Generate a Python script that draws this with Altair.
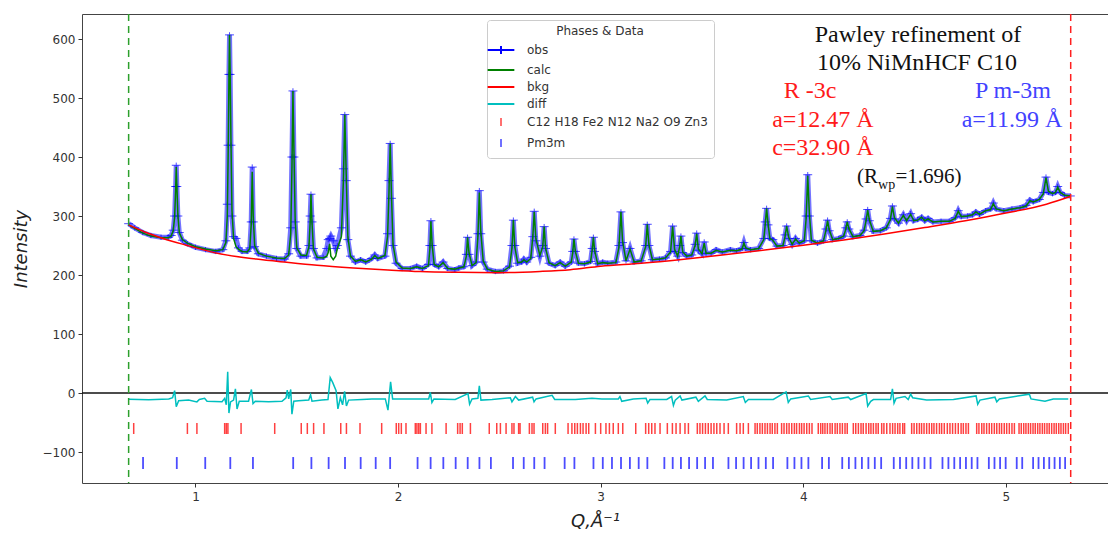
import altair as alt
import pandas as pd

# ---- observed / calculated profile (shared Q grid) ----
Q_PROFILE = [
    0.670, 0.700, 0.740, 0.780, 0.830, 0.865, 0.880, 0.890, 0.897, 0.902, 0.905, 0.908, 0.913, 0.920, 0.935, 0.960,
    1.000, 1.050, 1.100, 1.135, 1.150, 1.157, 1.161, 1.165, 1.168, 1.171, 1.175, 1.180, 1.188, 1.200, 1.212, 1.230,
    1.255, 1.268, 1.275, 1.280, 1.285, 1.292, 1.310, 1.350, 1.400, 1.440, 1.460, 1.470, 1.476, 1.481, 1.486, 1.492,
    1.500, 1.520, 1.548, 1.560, 1.566, 1.570, 1.575, 1.582, 1.600, 1.630, 1.648, 1.655, 1.662, 1.668, 1.680, 1.692,
    1.700, 1.720, 1.730, 1.737, 1.744, 1.752, 1.765, 1.790, 1.815, 1.840, 1.870, 1.885, 1.900, 1.935, 1.948, 1.955,
    1.961, 1.967, 1.975, 1.990, 2.020, 2.060, 2.092, 2.120, 2.150, 2.157, 2.162, 2.168, 2.178, 2.200, 2.222, 2.245,
    2.280, 2.300, 2.325, 2.337, 2.343, 2.350, 2.365, 2.385, 2.394, 2.401, 2.408, 2.420, 2.440, 2.480, 2.520, 2.550,
    2.562, 2.569, 2.576, 2.590, 2.610, 2.621, 2.635, 2.655, 2.665, 2.672, 2.680, 2.700, 2.714, 2.721, 2.728, 2.745,
    2.775, 2.800, 2.825, 2.855, 2.862, 2.868, 2.875, 2.890, 2.920, 2.950, 2.958, 2.964, 2.970, 2.985, 3.010, 3.035,
    3.075, 3.090, 3.100, 3.108, 3.125, 3.145, 3.165, 3.200, 3.222, 3.230, 3.238, 3.255, 3.290, 3.320, 3.345, 3.355,
    3.365, 3.380, 3.390, 3.396, 3.405, 3.425, 3.450, 3.466, 3.474, 3.482, 3.500, 3.511, 3.520, 3.545, 3.570, 3.600,
    3.640, 3.670, 3.698, 3.707, 3.716, 3.740, 3.780, 3.805, 3.812, 3.819, 3.826, 3.835, 3.850, 3.870, 3.900, 3.910,
    3.918, 3.928, 3.945, 3.962, 3.980, 4.005, 4.014, 4.022, 4.030, 4.040, 4.070, 4.100, 4.112, 4.120, 4.128, 4.145,
    4.175, 4.200, 4.210, 4.217, 4.225, 4.245, 4.280, 4.300, 4.310, 4.318, 4.326, 4.345, 4.380, 4.410, 4.430, 4.440,
    4.450, 4.470, 4.494, 4.510, 4.530, 4.545, 4.565, 4.584, 4.600, 4.616, 4.640, 4.680, 4.720, 4.750, 4.765, 4.780,
    4.810, 4.835, 4.852, 4.870, 4.900, 4.925, 4.938, 4.952, 4.990, 5.030, 5.070, 5.100, 5.119, 5.135, 5.165, 5.185,
    5.198, 5.210, 5.230, 5.245, 5.256, 5.268, 5.290, 5.318,
]
I_OBS = [
    287, 280, 272, 267, 264, 264, 267, 276, 300, 350, 386, 350, 300, 272, 259, 253,
    247, 243, 240, 243, 258, 320, 420, 540, 607, 540, 420, 300, 265, 262, 246, 240,
    240, 246, 290, 383, 290, 248, 236, 232, 228, 227, 236, 280, 400, 512, 400, 290,
    245, 232, 232, 250, 300, 337, 290, 245, 229, 230, 245, 260, 262, 266, 258, 245,
    250, 280, 380, 472, 360, 260, 232, 222, 226, 222, 228, 234, 228, 232, 270, 360,
    423, 330, 250, 220, 211, 211, 215, 211, 218, 250, 292, 250, 218, 214, 222, 211,
    209, 212, 214, 235, 264, 235, 216, 222, 270, 343, 270, 222, 210, 206, 207, 215,
    250, 293, 250, 220, 222, 227, 222, 230, 265, 308, 258, 232, 250, 282, 245, 220,
    216, 222, 215, 222, 240, 261, 240, 220, 219, 223, 245, 264, 240, 219, 222, 220,
    222, 250, 307, 255, 224, 245, 222, 224, 250, 286, 250, 226, 227, 229, 240, 283,
    240, 232, 250, 266, 238, 232, 234, 252, 271, 242, 236, 256, 237, 237, 243, 239,
    243, 241, 245, 255, 245, 243, 245, 262, 290, 313, 285, 262, 260, 249, 250, 268,
    283, 262, 252, 262, 254, 258, 300, 370, 300, 258, 254, 258, 278, 293, 275, 260,
    262, 266, 280, 290, 278, 265, 267, 276, 295, 311, 292, 274, 275, 280, 296, 317,
    295, 288, 302, 292, 304, 292, 294, 298, 292, 296, 290, 291, 291, 297, 309, 299,
    300, 302, 307, 303, 309, 312, 322, 312, 309, 312, 314, 318, 327, 324, 328, 340,
    366, 340, 338, 340, 350, 340, 335, 334,
]
I_CALC = [
    285, 279, 271, 266, 263, 263, 266, 275, 298, 345, 383, 352, 302, 272, 260, 254,
    248, 244, 241, 243, 255, 300, 400, 530, 607, 545, 430, 310, 262, 248, 244, 240,
    239, 245, 285, 375, 300, 250, 237, 232, 229, 228, 234, 270, 380, 512, 410, 295,
    246, 234, 233, 248, 290, 337, 290, 245, 230, 229, 232, 238, 253, 232, 226, 232,
    245, 265, 360, 472, 370, 265, 232, 223, 226, 222, 227, 233, 228, 233, 265, 340,
    423, 340, 252, 222, 212, 211, 214, 211, 216, 245, 291, 252, 218, 214, 221, 211,
    210, 212, 214, 232, 264, 238, 216, 221, 265, 340, 275, 224, 210, 206, 207, 214,
    245, 293, 248, 221, 222, 226, 222, 228, 265, 307, 262, 233, 248, 282, 246, 221,
    216, 221, 215, 222, 238, 261, 240, 220, 219, 222, 242, 264, 242, 219, 221, 220,
    221, 247, 307, 258, 224, 244, 222, 224, 248, 286, 252, 226, 227, 229, 239, 282,
    243, 232, 248, 266, 239, 232, 234, 250, 270, 244, 236, 254, 237, 237, 242, 239,
    242, 241, 244, 254, 246, 243, 245, 260, 285, 313, 288, 262, 259, 249, 250, 265,
    283, 264, 252, 261, 254, 258, 295, 368, 305, 259, 254, 258, 276, 292, 277, 260,
    262, 266, 278, 290, 279, 265, 267, 275, 292, 310, 294, 274, 275, 280, 294, 316,
    297, 288, 301, 292, 303, 292, 293, 298, 292, 295, 290, 291, 291, 296, 308, 299,
    300, 302, 307, 303, 309, 311, 321, 312, 309, 312, 314, 317, 326, 324, 328, 338,
    365, 342, 338, 340, 349, 340, 335, 334,
]

# ---- background ----
Q_BKG = [0.670, 0.750, 0.840, 0.950, 1.120, 1.300, 1.450, 1.600, 1.780, 1.950, 2.110, 2.300, 2.500, 2.700,
         2.850, 3.000, 3.200, 3.400, 3.600, 3.800, 4.000, 4.200, 4.400, 4.600, 4.800, 5.000, 5.200, 5.318]
I_BKG = [285, 273, 262, 251, 236, 227, 221.5, 216.5, 212, 208.5, 205.8, 204.5, 204, 206,
         209, 215, 220, 226.5, 234, 242, 250.5, 259.5, 269.5, 280.5, 292, 305, 320, 333]

# ---- difference curve (plotted with its own offset) ----
Q_DIFF = [
    0.670, 0.769, 0.868, 0.887, 0.897, 0.905, 0.917, 0.966, 1.007, 1.019, 1.045, 1.057, 1.131, 1.144, 1.152, 1.159,
    1.165, 1.173, 1.188, 1.197, 1.205, 1.216, 1.262, 1.276, 1.284, 1.295, 1.361, 1.427, 1.447, 1.453, 1.460, 1.470,
    1.476, 1.485, 1.509, 1.559, 1.568, 1.575, 1.624, 1.654, 1.665, 1.677, 1.694, 1.703, 1.715, 1.726, 1.736, 1.745,
    1.756, 1.822, 1.871, 1.937, 1.950, 1.963, 1.973, 2.052, 2.151, 2.159, 2.167, 2.177, 2.282, 2.345, 2.353, 2.365,
    2.394, 2.401, 2.409, 2.464, 2.554, 2.562, 2.579, 2.595, 2.664, 2.671, 2.681, 2.760, 2.773, 2.875, 2.957, 3.006,
    3.087, 3.095, 3.104, 3.161, 3.224, 3.232, 3.243, 3.326, 3.350, 3.359, 3.368, 3.392, 3.401, 3.470, 3.482, 3.515,
    3.526, 3.622, 3.704, 3.714, 3.729, 3.852, 3.915, 3.926, 3.938, 4.025, 4.036, 4.132, 4.143, 4.222, 4.234, 4.310,
    4.318, 4.333, 4.346, 4.431, 4.440, 4.448, 4.458, 4.502, 4.518, 4.530, 4.540, 4.609, 4.741, 4.853, 4.861, 4.872,
    4.946, 4.955, 4.968, 5.116, 5.124, 5.193, 5.234, 5.308,
]
I_DIFF = [
    -10.7, -11.5, -10, -8, 4, -23, -13, -12, -15, -11, -9, -14, -14.7, -9, -20, 36,
    -34, -15, -12, 7, -27, -14, -14, 6, -18, -14, -15, -14, -8, 5, -10, 6,
    -36, -14, -13, -12, -3, -14, -12, -11, 26, 18, 4, -27, -8, -20, 3, -22,
    -12, -11, -10, -10, -29, 19, -10, -10, -10, 1, -16, -10, -11, -1, -19, -10,
    -9, 12, -12, -11, -8, -15, -6, -12, -7, -15, -10, -4, -11, -11, -9, -10,
    -10, -6, -14, -10, -9, -17, -11, -11, -6, -21, -12, -5, -12, -7, -14, -5,
    -11, -12, -6, -16, -11, -11, 2, -16, -10, -5, -11, -6, -11, -7, -11, -1,
    -22, -14, -11, -11, 7, -17, -9, -6, -11, -2, -8, -12, -11, -5, -19, -12,
    -7, -15, -10, -2, -10, -14, -10, -10,
]

# ---- reflection positions ----
TICKS_R3C = [
    0.695, 0.960, 1.007, 1.144, 1.152, 1.160, 1.225, 1.391, 1.522, 1.552, 1.583, 1.634, 1.717, 1.745, 1.812,
    1.919, 1.991, 2.003, 2.016, 2.039, 2.085, 2.093, 2.102, 2.110, 2.138, 2.167, 2.237, 2.294, 2.306, 2.317,
    2.357, 2.450, 2.487, 2.505, 2.533, 2.562, 2.572, 2.595, 2.602, 2.648, 2.661, 2.671, 2.714, 2.727, 2.738,
    2.776, 2.839, 2.858, 2.872, 2.885, 2.900, 2.913, 2.928, 2.941, 2.974, 3.000,
    3.026, 3.043, 3.062, 3.087, 3.109, 3.173, 3.222, 3.237, 3.252, 3.268, 3.293, 3.329, 3.354, 3.372, 3.392,
    3.416, 3.433, 3.477, 3.490, 3.503, 3.517, 3.531, 3.545, 3.559, 3.573, 3.589, 3.609, 3.630, 3.671, 3.688,
    3.704, 3.729,
    3.762, 3.773, 3.786, 3.798, 3.811, 3.823, 3.836, 3.847, 3.860, 3.872, 3.893, 3.905, 3.918, 3.930, 3.943,
    3.956, 3.967, 3.981, 3.992, 4.004, 4.017, 4.030, 4.043,
    4.074, 4.086, 4.096, 4.107, 4.119, 4.132, 4.143, 4.157, 4.168, 4.181, 4.193, 4.206, 4.217,
    4.247, 4.259, 4.272, 4.285, 4.296, 4.310, 4.323, 4.334, 4.346, 4.359, 4.370, 4.387, 4.398, 4.412, 4.428,
    4.441, 4.453, 4.466, 4.477, 4.491, 4.500,
    4.535, 4.547, 4.560, 4.573, 4.584, 4.596, 4.609, 4.622, 4.634, 4.645, 4.658, 4.672, 4.683, 4.696, 4.711,
    4.724, 4.737, 4.751, 4.765, 4.779, 4.790, 4.803, 4.815,
    4.856, 4.867, 4.881, 4.892, 4.905, 4.918, 4.930, 4.943, 4.955, 4.968, 4.979, 4.992, 5.004, 5.017, 5.030,
    5.042,
    5.065, 5.076, 5.088, 5.099, 5.111, 5.122, 5.134, 5.145, 5.157, 5.168, 5.180, 5.191, 5.203, 5.214, 5.226,
    5.238, 5.249, 5.261, 5.272, 5.284, 5.295, 5.308,
]
TICKS_PM3M = [
    0.7411, 0.9077, 1.0481, 1.1718, 1.2836, 1.4822, 1.5721, 1.6572, 1.7380, 1.8153, 1.8895, 1.9608, 2.0962,
    2.1606, 2.2233, 2.2842, 2.3436, 2.4015, 2.4580, 2.5673, 2.6202, 2.6721, 2.7230, 2.8221, 2.8703, 2.9644,
    3.0104, 3.0557, 3.1003, 3.1442, 3.1876, 3.2304, 3.3143, 3.3555, 3.3961, 3.4363, 3.4761, 3.5153, 3.5542,
    3.6306, 3.6683, 3.7055, 3.7424, 3.7789, 3.8151, 3.8509, 3.9216, 3.9564, 3.9910, 4.0252, 4.0929, 4.1263,
    4.1923, 4.2250, 4.2573, 4.2894, 4.3213, 4.3530, 4.3844, 4.4466, 4.4774, 4.5080, 4.5383, 4.5685, 4.5984,
    4.6282, 4.6871, 4.7164, 4.7454, 4.7742, 4.8029, 4.8314, 4.8597, 4.9159, 4.9438, 4.9715, 4.9990, 5.0536,
    5.0807, 5.1345, 5.1612, 5.1877, 5.2141, 5.2404, 5.2665, 5.2925,
]
R3C_ROW = (-69.5, -50.8)
PM3M_ROW = (-128.8, -108.5)

# refinement limits
LIMITS_Q = [0.670, 5.320]
LIMITS_COLOR = ["#2ca02c", "#ff2020"]

# legend entries (symbol paths drawn wider than the unit box, so a small symbol size still gives long keys)
SERIES = ["obs", "calc", "bkg", "diff", "C12 H18 Fe2 N12 Na2 O9 Zn3", "Pm3m"]
SERIES_COLORS = ["#0000ff", "#008000", "#ff0000", "#00bfbf", "#ff7070", "#7070ff"]
SERIES_SYMBOLS = ["M-2,0H2M0,-0.6V0.6", "M-2,0H2", "M-2,0H2", "M-2,0H2", "M0,-0.6V0.6", "M0,-0.6V0.6"]

# annotation block
NOTE_TEXT = ["Pawley refinement of", "10% NiMnHCF C10", "R -3c", "a=12.47 Å", "c=32.90 Å", "P m-3m", "a=11.99 Å"]
NOTE_Q = [4.566, 4.561, 4.033, 4.097, 4.097, 5.035, 5.030]
NOTE_I = [595.4, 547.5, 500.0, 451.4, 403.4, 500.0, 451.4]
NOTE_COLOR = ["#111111", "#111111", "#ff1a1a", "#ff1a1a", "#ff1a1a", "#4242ff", "#4242ff"]
RWP_TEXT = ["(R", "wp", "=1.696)"]
RWP_Q = [4.265, 4.369, 4.455]
RWP_I = [356.0, 346.0, 356.0]
RWP_SIZE = [21, 14, 21]

Q_DOMAIN = [0.4398, 5.5041]
I_DOMAIN = [-152.5, 642.4]

# ---------------------------------------------------------------
profile = pd.DataFrame({"q": Q_PROFILE, "obs": I_OBS, "calc": I_CALC})
bkg = pd.DataFrame({"q": Q_BKG, "v": I_BKG})
diff = pd.DataFrame({"q": Q_DIFF, "v": I_DIFF})
r3c = pd.DataFrame({"q": TICKS_R3C, "lo": R3C_ROW[0], "hi": R3C_ROW[1]})
pm3m = pd.DataFrame({"q": TICKS_PM3M, "lo": PM3M_ROW[0], "hi": PM3M_ROW[1]})
limits = pd.DataFrame({"q": LIMITS_Q, "c": LIMITS_COLOR})
zero = pd.DataFrame({"v": [0]})
legend_rows = pd.DataFrame({"series": SERIES, "q": [None] * len(SERIES), "v": [None] * len(SERIES)})
notes = pd.DataFrame({"text": NOTE_TEXT, "q": NOTE_Q, "v": NOTE_I, "c": NOTE_COLOR})
rwp = pd.DataFrame({"text": RWP_TEXT, "q": RWP_Q, "v": RWP_I, "s": RWP_SIZE})

xs = alt.Scale(domain=Q_DOMAIN, nice=False, zero=False)
ys = alt.Scale(domain=I_DOMAIN, nice=False, zero=False)
x_axis = alt.Axis(values=[1, 2, 3, 4, 5], format="d", title="Q,Å⁻¹", titleX=513, titleY=38,
                  titleAlign="center", titleBaseline="middle", labelPadding=4)
y_axis = alt.Axis(values=[-100, 0, 100, 200, 300, 400, 500, 600], format="d", title="Intensity",
                  titleX=-61, titleY=234.5, titleAngle=270, titleAlign="center", titleBaseline="middle",
                  labelPadding=3)


def X(field):
    return alt.X(field, type="quantitative", scale=xs, axis=x_axis)


def Y(field):
    return alt.Y(field, type="quantitative", scale=ys, axis=y_axis)


obs_band = alt.Chart(profile).mark_line(color="#0000ff", strokeWidth=5, opacity=0.55).encode(x=X("q"), y=Y("obs"))
obs_marks = alt.Chart(profile).mark_point(
    shape="M-1,0H1M0,-0.6V0.6", filled=False, size=80, strokeWidth=1, color="#0000ff", opacity=0.7
).encode(x=X("q"), y=Y("obs"))
calc_line = alt.Chart(profile).mark_line(color="#008000", strokeWidth=1.5).encode(x=X("q"), y=Y("calc"))
bkg_line = alt.Chart(bkg).mark_line(color="#ff0000", strokeWidth=1.5, interpolate="monotone").encode(
    x=X("q"), y=Y("v"))
zero_line = alt.Chart(zero).mark_rule(color="#111111", strokeWidth=1.5).encode(y=Y("v"))
diff_line = alt.Chart(diff).mark_line(color="#00bfbf", strokeWidth=1.5).encode(x=X("q"), y=Y("v"))
r3c_ticks = alt.Chart(r3c).mark_rule(color="#ff0000", strokeWidth=1.5, opacity=0.75).encode(
    x=X("q"), y=Y("lo"), y2="hi")
pm3m_ticks = alt.Chart(pm3m).mark_rule(color="#0000ff", strokeWidth=1.8, opacity=0.7).encode(
    x=X("q"), y=Y("lo"), y2="hi")
limit_lines = alt.Chart(limits).mark_rule(strokeWidth=1.5, strokeDash=[7, 5]).encode(
    x=X("q"), stroke=alt.Stroke("c:N", scale=None))

legend = alt.Legend(
    title="Phases & Data", orient="none", legendX=405, legendY=6, direction="vertical",
    symbolSize=178, symbolStrokeWidth=2, symbolOpacity=1, symbolFillColor="transparent",
    labelFont="DejaVu Sans", labelFontSize=12, labelColor="#333333", labelLimit=400, labelOffset=18,
    titleFont="DejaVu Sans", titleFontSize=12, titleFontWeight="normal", titleColor="#333333",
    titleAnchor="middle", titlePadding=4, padding=6, rowPadding=3,
    fillColor="white", strokeColor="#cccccc", cornerRadius=3,
)
legend_layer = alt.Chart(legend_rows).mark_point(filled=False).encode(
    x=X("q"), y=Y("v"),
    color=alt.Color("series:N", scale=alt.Scale(domain=SERIES, range=SERIES_COLORS), legend=legend),
    shape=alt.Shape("series:N", scale=alt.Scale(domain=SERIES, range=SERIES_SYMBOLS), legend=legend),
)

note_layer = alt.Chart(notes).mark_text(font="Liberation Serif", fontSize=24, align="center",
                                        baseline="alphabetic").encode(
    x=X("q"), y=Y("v"), text="text:N", fill=alt.Fill("c:N", scale=None))
rwp_layer = alt.Chart(rwp).mark_text(font="Liberation Serif", align="left", baseline="alphabetic",
                                     color="#111111").encode(
    x=X("q"), y=Y("v"), text="text:N", size=alt.Size("s:Q", scale=None))

chart = alt.layer(
    obs_band, obs_marks, calc_line, bkg_line, zero_line, diff_line, r3c_ticks, pm3m_ticks,
    limit_lines, legend_layer, note_layer, rwp_layer,
).properties(
    width=1026, height=469,
    padding={"left": 82, "top": 14, "right": 0, "bottom": 51},
    autosize=alt.AutoSizeParams(type="none"),
    background="white",
).configure_view(
    stroke="#444444", strokeWidth=1,
).configure_axis(
    grid=False, domain=False, tickColor="#333333", tickSize=4,
    labelFont="DejaVu Sans", labelFontSize=12, labelColor="#333333",
    titleFont="DejaVu Sans", titleFontSize=18, titleFontStyle="italic", titleFontWeight="normal",
    titleColor="#222222",
)

chart.save("out.html", embed_options={"renderer": "svg", "actions": False})
